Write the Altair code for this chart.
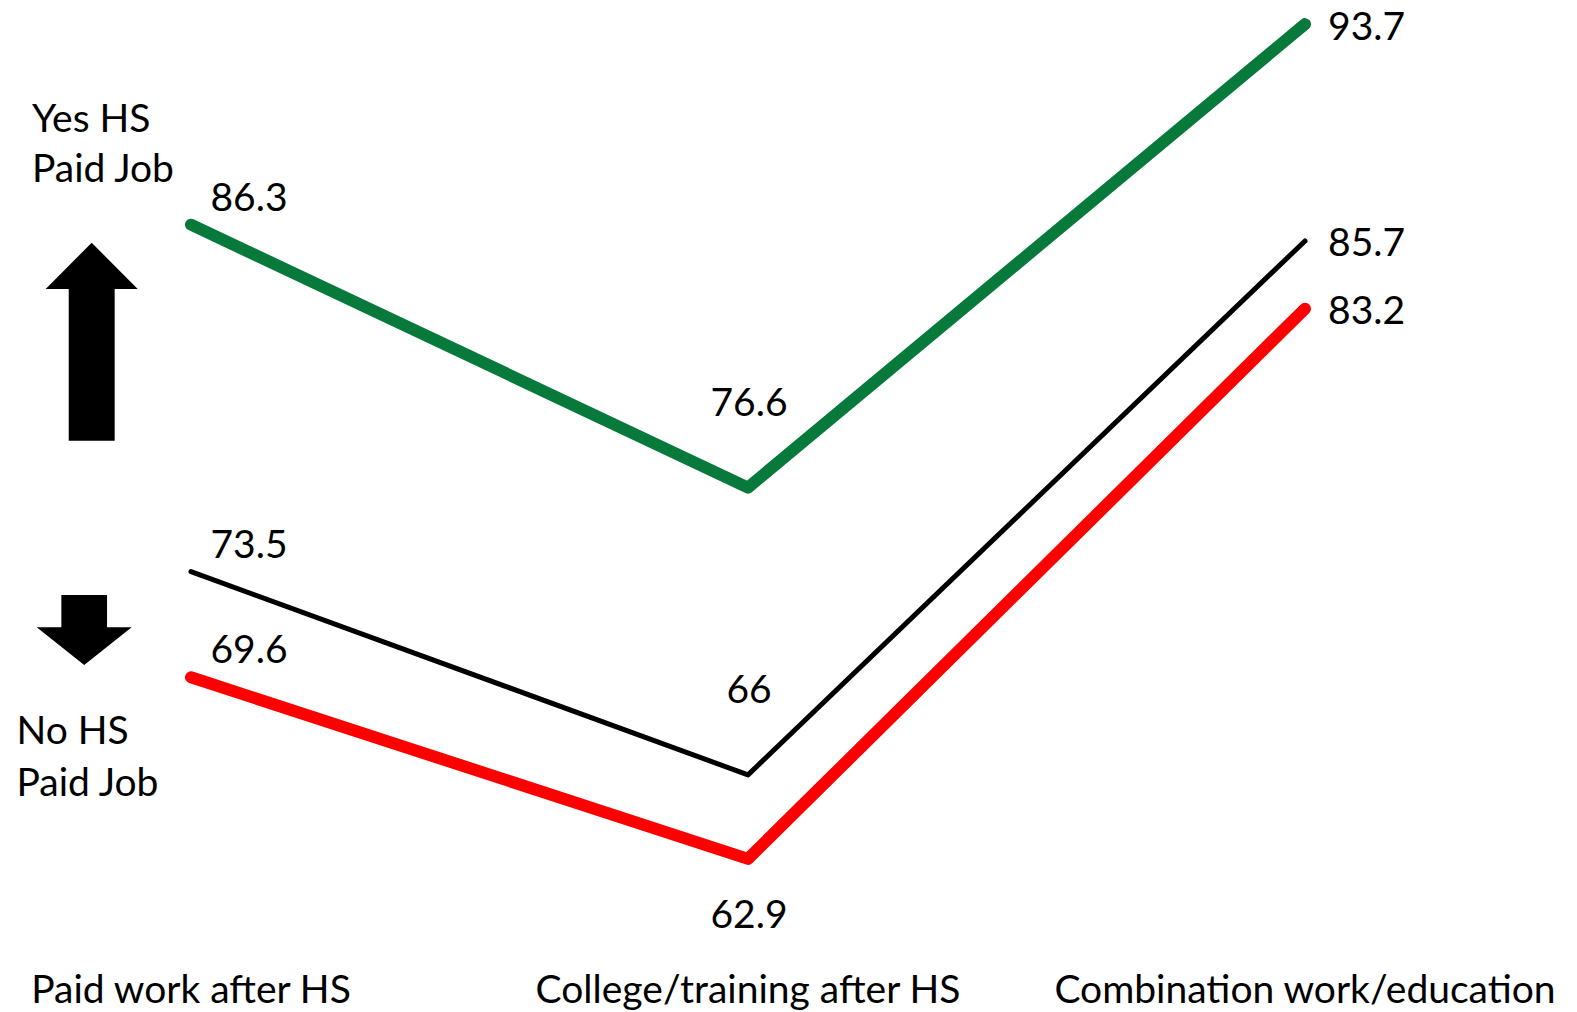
import altair as alt
import pandas as pd

categories = ["Paid work after HS", "College/training after HS", "Combination work/education"]
series_names = ["Yes HS Paid Job", "Overall", "No HS Paid Job"]
series_colors = ["#077a3b", "#000000", "#ff0000"]
series_widths = [12, 5, 12]
yes_hs = [86.3, 76.6, 93.7]
overall = [73.5, 66.0, 85.7]
no_hs = [69.6, 62.9, 83.2]
yes_labels = ["86.3", "76.6", "93.7"]
overall_labels = ["73.5", "66", "85.7"]
no_labels = ["69.6", "62.9", "83.2"]

rows = []
for s, vals, labs in zip(series_names, [yes_hs, overall, no_hs], [yes_labels, overall_labels, no_labels]):
    for i, (v, l) in enumerate(zip(vals, labs)):
        rows.append({"series": s, "idx": i, "category": categories[i], "value": v, "label": l})
df = pd.DataFrame(rows)
cat_df = pd.DataFrame({"idx": [0, 1, 2], "category": categories})

FONT = "Lato"
FS = 39

xs = alt.Scale(domain=[-0.3429, 2.4883], nice=False, zero=False)
ys = alt.Scale(domain=[57.25, 94.59], nice=False, zero=False)
X = alt.X("idx:Q", scale=xs, axis=None)
Y = alt.Y("value:Q", scale=ys, axis=None)

base = alt.Chart(df)
layers = []
for s, c, w in zip(series_names, series_colors, series_widths):
    layers.append(
        base.transform_filter(alt.datum.series == s)
        .mark_line(color=c, strokeWidth=w, strokeCap="round", strokeJoin="round")
        .encode(x=X, y=Y, order="idx:Q")
    )

txt = dict(font=FONT, fontSize=FS, color="black", baseline="alphabetic")
layers.append(base.transform_filter(alt.datum.idx == 0)
              .mark_text(align="center", dx=58, dy=-14, **txt)
              .encode(x=X, y=Y, text="label:N"))
layers.append(base.transform_filter((alt.datum.idx == 1) & (alt.datum.series != "No HS Paid Job"))
              .mark_text(align="center", dx=1, dy=-72, **txt)
              .encode(x=X, y=Y, text="label:N"))
layers.append(base.transform_filter((alt.datum.idx == 1) & (alt.datum.series == "No HS Paid Job"))
              .mark_text(align="center", dx=1, dy=69, **txt)
              .encode(x=X, y=Y, text="label:N"))
layers.append(base.transform_filter(alt.datum.idx == 2)
              .mark_text(align="left", dx=23, dy=15.5, **txt)
              .encode(x=X, y=Y, text="label:N"))

layers.append(alt.Chart(cat_df).mark_text(align="center", **txt)
              .encode(x=X, y=alt.value(1003), text="category:N"))

one = pd.DataFrame({"a": [0]})
for t, px, py in [("Yes HS", 32, 131.7), ("Paid Job", 32, 181.7),
                  ("No HS", 16.5, 744), ("Paid Job", 16.5, 796)]:
    layers.append(alt.Chart(one).mark_text(align="left", text=t, **txt)
                  .encode(x=alt.value(px), y=alt.value(py)))

up_path = "M0,-1 L0.465,-0.532 L0.232,-0.532 L0.232,1 L-0.232,1 L-0.232,-0.532 L-0.465,-0.532 Z"
down_path = "M-0.481,-0.737 L0.481,-0.737 L0.481,-0.057 L1,-0.057 L0,0.737 L-1,-0.057 L-0.481,-0.057 Z"
layers.append(alt.Chart(one).mark_point(shape=up_path, filled=True, color="black", opacity=1,
                                        size=39204, strokeWidth=0)
              .encode(x=alt.value(91.7), y=alt.value(341.7)))
layers.append(alt.Chart(one).mark_point(shape=down_path, filled=True, color="black", opacity=1,
                                        size=9025, strokeWidth=0)
              .encode(x=alt.value(84.2), y=alt.value(630)))

chart = alt.layer(*layers).properties(
    width=1577, height=1012, padding=0, background="white"
).configure_view(stroke=None)

chart.save("out.html", embed_options={"renderer": "svg", "actions": False})
